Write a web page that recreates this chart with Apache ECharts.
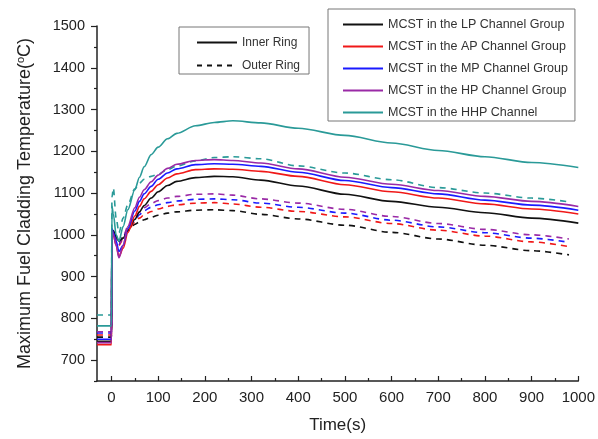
<!DOCTYPE html>
<html>
<head>
<meta charset="utf-8">
<script src="https://cdn.jsdelivr.net/npm/echarts@6/dist/echarts.min.js"></script>
<style>html,body{margin:0;padding:0;background:#fff;}#c{width:598px;height:439px;}</style>
</head>
<body>
<div id="c"></div>
<script>
// ---- data ----
const timeInner = [-31, 0, 1, 4, 10, 16, 25, 35, 50, 60, 70, 85, 100, 120, 140, 180, 220, 260, 320, 400, 500, 600, 700, 800, 900, 1000];
const timeOuter = [-31, 0, 1, 4, 10, 16, 25, 35, 50, 60, 70, 85, 100, 120, 140, 180, 220, 260, 320, 400, 500, 600, 700, 800, 900, 980];

const groupNames = ['MCST in the LP Channel Group', 'MCST in the AP Channel Group', 'MCST in the MP Channel Group', 'MCST in the HP Channel Group', 'MCST in the HHP Channel'];
const groupColors = ['#111111', '#f01818', '#1a1aff', '#9a2aa6', '#2a9a98'];

const innerLP  = [745,745,1005,1010,995,985,992,1010,1037,1055,1070,1088,1103,1118,1128,1137,1140,1139,1131,1117,1097,1080,1066,1053,1040,1028];
const innerAP  = [737,737,1010,1000,975,948,968,1005,1045,1068,1086,1104,1120,1136,1146,1156,1158,1157,1152,1140,1120,1103,1088,1074,1062,1050];
const innerMP  = [750,750,1015,1005,985,960,975,1015,1057,1080,1098,1116,1133,1148,1158,1168,1170,1169,1164,1150,1130,1113,1098,1083,1071,1059];
const innerHP  = [742,742,1010,1000,975,945,975,1020,1065,1090,1108,1127,1143,1159,1169,1178,1180,1178,1172,1158,1138,1121,1106,1092,1080,1068];
const innerHHP = [782,782,1068,1050,1000,985,1020,1060,1108,1138,1163,1192,1210,1230,1243,1261,1269,1273,1268,1255,1238,1220,1202,1187,1173,1161];

const outerLP  = [755,755,1000,1005,990,980,995,1010,1025,1031,1036,1042,1047,1052,1055,1059,1060,1058,1049,1038,1023,1006,990,975,962,952];
const outerAP  = [760,760,1005,1005,990,975,990,1010,1030,1040,1048,1056,1062,1068,1072,1076,1077,1074,1066,1056,1043,1027,1011,997,983,972];
const outerMP  = [765,765,1010,1008,992,978,995,1015,1035,1048,1058,1066,1072,1077,1081,1085,1086,1084,1076,1066,1052,1035,1019,1005,992,982];
const outerHP  = [768,768,1010,1008,992,978,995,1020,1040,1054,1065,1075,1082,1088,1092,1097,1098,1095,1086,1076,1061,1044,1027,1013,1000,990];
const outerHHP = [808,808,1090,1112,1040,1005,1040,1072,1110,1124,1133,1140,1145,1156,1165,1177,1185,1187,1182,1165,1148,1132,1113,1100,1088,1079];

const xMajorTicks = [0,100,200,300,400,500,600,700,800,900,1000];
const xMinorTicks = [50,150,250,350,450,550,650,750,850,950];
const yMajorTicks = [700,800,900,1000,1100,1200,1300,1400,1500];
const yMinorTicks = [650,750,850,950,1050,1150,1250,1350,1450];

const ringNames = ['Inner Ring', 'Outer Ring'];

// ---- build ----
const innerData = [innerLP, innerAP, innerMP, innerHP, innerHHP];
const outerData = [outerLP, outerAP, outerMP, outerHP, outerHHP];
const zip = (t, v) => t.map((x, i) => [x, v[i]]);

const series = [];
outerData.forEach((d, i) => {
  series.push({
    name: 'outer ' + i, type: 'line', data: zip(timeOuter, d), symbol: 'none',
    smooth: 0.3, smoothMonotone: 'x', silent: true,
    lineStyle: { color: groupColors[i], width: 1.6, type: [6, 5] }, z: 2
  });
});
innerData.forEach((d, i) => {
  series.push({
    name: groupNames[i], type: 'line', data: zip(timeInner, d), symbol: 'none',
    smooth: 0.3, smoothMonotone: 'x', silent: true,
    color: groupColors[i],
    lineStyle: { color: groupColors[i], width: 1.6 }, z: 3
  });
});
series.push({ name: ringNames[0], type: 'line', data: [], symbol: 'none', color: '#111', lineStyle: { color: '#111', width: 1.4 } });
series.push({ name: ringNames[1], type: 'line', data: [], symbol: 'none', color: '#111', lineStyle: { color: '#111', width: 1.4, type: [5, 5] } });

const FONT = '"Liberation Sans", Arial, sans-serif';
const hiddenSymbol = { color: 'rgba(0,0,0,0)', borderWidth: 0, opacity: 0 };
const plain = v => String(v);

const option = {
  animation: false,
  backgroundColor: '#fff',
  textStyle: { fontFamily: FONT },
  grid: { left: 97, right: 15, top: 26, bottom: 56, containLabel: false },
  legend: [
    {
      data: ringNames, left: 179, top: 27, orient: 'vertical',
      padding: [9, 9, 2, 17], itemWidth: 40, itemHeight: 13, itemGap: 10,
      borderColor: '#777', borderWidth: 1, backgroundColor: '#fff',
      selectedMode: false, itemStyle: hiddenSymbol,
      textStyle: { fontSize: 12, color: '#333', fontFamily: FONT, lineHeight: 13 }
    },
    {
      data: groupNames, left: 328, top: 9, orient: 'vertical',
      padding: [9, 7, 2, 14], itemWidth: 40, itemHeight: 13, itemGap: 9,
      borderColor: '#777', borderWidth: 1, backgroundColor: '#fff',
      selectedMode: false, itemStyle: hiddenSymbol,
      textStyle: { fontSize: 12.5, color: '#333', fontFamily: FONT, lineHeight: 13 }
    }
  ],
  xAxis: [
    {
      type: 'value', min: -31, max: 1000,
      name: 'Time(s)', nameLocation: 'middle', nameGap: 36,
      nameTextStyle: { fontSize: 17, color: '#222', fontFamily: FONT },
      axisLine: { onZero: false, lineStyle: { color: '#222', width: 1.5 } },
      axisTick: { inside: true, length: 5, customValues: xMajorTicks, lineStyle: { color: '#222', width: 1.2 } },
      axisLabel: { customValues: xMajorTicks, formatter: plain, fontSize: 15, color: '#222', margin: 9, fontFamily: FONT },
      splitLine: { show: false }
    },
    {
      type: 'value', min: -31, max: 1000, position: 'bottom',
      axisLine: { show: false, onZero: false },
      axisTick: { inside: true, length: 3, customValues: xMinorTicks, lineStyle: { color: '#222', width: 1.2 } },
      axisLabel: { show: false },
      splitLine: { show: false }
    }
  ],
  yAxis: [
    {
      type: 'value', min: 650, max: 1500,
      name: 'Maximum Fuel Cladding Temperature({sup|o}C)', nameLocation: 'middle', nameGap: 62, nameRotate: 90,
      nameTextStyle: { fontSize: 18, color: '#222', fontFamily: FONT,
        rich: { sup: { fontSize: 11, color: '#222', padding: [0, 0, 9, 0], fontFamily: FONT } } },
      axisLine: { show: true, onZero: false, lineStyle: { color: '#222', width: 1.5 } },
      axisTick: { show: true, inside: false, length: 6, customValues: yMajorTicks, lineStyle: { color: '#222', width: 1.2 } },
      axisLabel: { customValues: yMajorTicks, formatter: plain, fontSize: 14.5, color: '#222', margin: 12, fontFamily: FONT },
      splitLine: { show: false }
    },
    {
      type: 'value', min: 650, max: 1500, position: 'left',
      axisLine: { show: false, onZero: false },
      axisTick: { show: true, inside: false, length: 3, customValues: yMinorTicks, lineStyle: { color: '#222', width: 1.2 } },
      axisLabel: { show: false },
      splitLine: { show: false }
    }
  ],
  series: series
};

const chart = echarts.init(document.getElementById('c'), null, { renderer: 'canvas' });
chart.setOption(option);
</script>
</body>
</html>
